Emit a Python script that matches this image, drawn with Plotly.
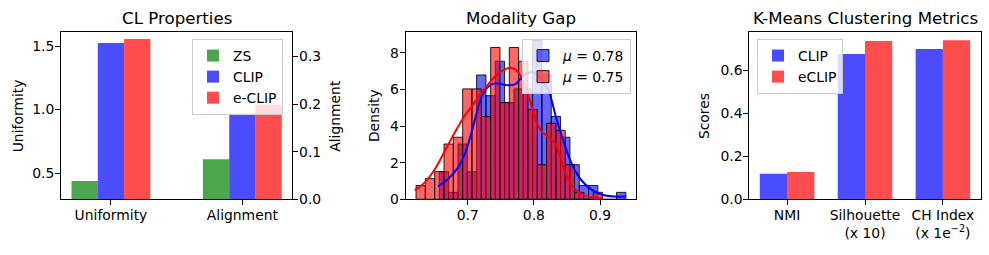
import plotly.graph_objects as go

# ---------------- data ----------------
cl_categories = ["Uniformity", "Alignment"]
cl_methods = ["ZS", "CLIP", "e-CLIP"]
uniformity_values = [0.437, 1.524, 1.555]   # left axis
alignment_values = [0.084, 0.180, 0.199]    # right axis

hist_bin_width = 0.0141
clip_hist_start = 0.6571
eclip_hist_start = 0.6219
clip_density = [1.51, 0.38, 3.02, 1.51, 6.79, 5.66, 7.54, 5.28, 6.03, 6.03,
                8.67, 6.79, 4.52, 3.39, 1.89, 0.75, 0.75, 0.0, 0.0, 0.38]
eclip_density = [0.75, 1.13, 1.51, 3.02, 3.39, 6.03, 6.03, 4.52, 8.29, 5.28,
                 8.29, 7.54, 4.90, 1.89, 4.15, 3.77, 1.89, 0.38, 0.0, 0.38]
clip_kde_x = [0.655, 0.671, 0.686, 0.696, 0.706, 0.714, 0.721, 0.731, 0.741, 0.751,
              0.761, 0.772, 0.779, 0.788, 0.797, 0.807, 0.816, 0.823, 0.827, 0.834,
              0.842, 0.852, 0.862, 0.872, 0.885, 0.902, 0.922, 0.939]
clip_kde_y = [0.70, 1.13, 1.77, 2.50, 3.68, 4.77, 5.59, 6.14, 6.33, 6.29,
              6.23, 6.29, 6.55, 6.85, 6.95, 6.75, 6.30, 5.90, 5.40, 4.41,
              3.50, 2.40, 1.59, 1.04, 0.58, 0.26, 0.15, 0.15]
eclip_kde_x = [0.620, 0.636, 0.651, 0.666, 0.681, 0.696, 0.711, 0.726, 0.741, 0.756,
               0.764, 0.776, 0.789, 0.797, 0.804, 0.812, 0.822, 0.832, 0.839, 0.847,
               0.857, 0.867, 0.880, 0.892, 0.904]
eclip_kde_y = [0.49, 0.95, 1.68, 2.68, 3.68, 4.59, 5.32, 6.05, 6.69, 7.09,
               7.18, 6.96, 5.96, 5.05, 4.23, 3.68, 3.41, 3.05, 2.41, 1.49,
               0.77, 0.40, 0.16, 0.09, 0.09]
mu_labels = ["<i>μ</i> = 0.78", "<i>μ</i> = 0.75"]

km_metrics = ["NMI", "Silhouette<br>(x 10)", "CH Index<br>(x 1e<sup>−2</sup>)"]
km_methods = ["CLIP", "eCLIP"]
km_clip = [0.119, 0.676, 0.699]
km_eclip = [0.127, 0.736, 0.740]

# ---------------- style ----------------
FONT = "DejaVu Sans"
FS = 13.9
GREEN = "rgba(0,128,0,0.7)"
BLUE = "rgba(0,0,255,0.7)"
RED = "rgba(255,0,0,0.7)"
HBLUE = "rgba(0,0,255,0.6)"
HRED = "rgba(255,0,0,0.6)"

W, H = 989, 255
def px_x(a, b):
    return [a / W, b / W]
YD = [(H - 199.3) / H, (H - 32.3) / H]
P1 = px_x(61, 292.3)
P2 = px_x(405.7, 636)
P3 = px_x(749.3, 980.7)

fig = go.Figure()

# Panel 1: CL properties
cl_colors = [GREEN, BLUE, RED]
bw1 = 0.2
for i, (name, col) in enumerate(zip(cl_methods, cl_colors)):
    off = (i - 1) * bw1
    fig.add_bar(x=[0 + off], y=[uniformity_values[i]], width=bw1, name=name,
                marker=dict(color=col, line=dict(width=0)), xaxis="x", yaxis="y",
                legend="legend")
for i, (name, col) in enumerate(zip(cl_methods, cl_colors)):
    off = (i - 1) * bw1
    fig.add_bar(x=[1 + off], y=[alignment_values[i]], width=bw1, name=name,
                marker=dict(color=col, line=dict(width=0)), xaxis="x", yaxis="y2",
                showlegend=False)

# Panel 2: modality gap histograms
clip_centers = [clip_hist_start + (k + 0.5) * hist_bin_width for k in range(len(clip_density))]
eclip_centers = [eclip_hist_start + (k + 0.5) * hist_bin_width for k in range(len(eclip_density))]
fig.add_bar(x=clip_centers, y=clip_density, width=hist_bin_width, name=mu_labels[0],
            marker=dict(color=HBLUE, line=dict(color="rgba(0,0,0,0.85)", width=1)),
            xaxis="x2", yaxis="y3", legend="legend2")
fig.add_bar(x=eclip_centers, y=eclip_density, width=hist_bin_width, name=mu_labels[1],
            marker=dict(color=HRED, line=dict(color="rgba(0,0,0,0.85)", width=1)),
            xaxis="x2", yaxis="y3", legend="legend2")
fig.add_scatter(x=clip_kde_x, y=clip_kde_y, mode="lines", line=dict(color="blue", width=2, shape="spline"),
                xaxis="x2", yaxis="y3", showlegend=False)
fig.add_scatter(x=eclip_kde_x, y=eclip_kde_y, mode="lines", line=dict(color="red", width=2, shape="spline"),
                xaxis="x2", yaxis="y3", showlegend=False)

# Panel 3: K-means metrics
bw3 = 0.35
for vals, name, col, off in [(km_clip, km_methods[0], BLUE, -bw3 / 2), (km_eclip, km_methods[1], RED, bw3 / 2)]:
    fig.add_bar(x=[k + off for k in range(len(vals))], y=vals, width=bw3, name=name,
                marker=dict(color=col, line=dict(width=0)), xaxis="x3", yaxis="y4",
                legend="legend3")

common = dict(showline=True, linecolor="black", linewidth=1, ticks="outside", ticklen=5,
              tickwidth=1, tickcolor="black", showgrid=False, zeroline=False,
              tickfont=dict(family=FONT, size=FS, color="black"), automargin=False,
              ticklabelstandoff=-2)

legend_common = dict(bgcolor="rgba(255,255,255,0.8)", bordercolor="#cccccc", borderwidth=1,
                     font=dict(family=FONT, size=FS, color="black"), xanchor="left",
                     yanchor="top", traceorder="normal")

fig.update_layout(
    width=W, height=H, margin=dict(l=0, r=0, t=0, b=0),
    paper_bgcolor="white", plot_bgcolor="white", barmode="overlay",
    font=dict(family=FONT, size=FS, color="black"),
    xaxis=dict(domain=P1, range=[-0.38, 1.38], tickvals=[0, 1], ticktext=cl_categories,
               anchor="y", mirror=True, **common),
    yaxis=dict(domain=YD, range=[0.293, 1.608], tickvals=[0.5, 1.0, 1.5], tickformat=".1f",
               anchor="x", mirror=True, **common),
    yaxis2=dict(range=[0, 0.351], tickvals=[0, 0.1, 0.2, 0.3], tickformat=".1f",
                overlaying="y", side="right", anchor="x", **common),
    xaxis2=dict(domain=P2, range=[0.6063, 0.9544], tickvals=[0.7, 0.8, 0.9], tickformat=".1f",
                anchor="y3", mirror=True, **common),
    yaxis3=dict(domain=YD, range=[0, 9.12], tickvals=[0, 2, 4, 6, 8],
                anchor="x2", mirror=True, **common),
    xaxis3=dict(domain=P3, range=[-0.485, 2.485], tickvals=[0, 1, 2], ticktext=km_metrics,
                anchor="y4", mirror=True, **common),
    yaxis4=dict(domain=YD, range=[0, 0.777], tickvals=[0, 0.2, 0.4, 0.6], tickformat=".1f",
                anchor="x3", mirror=True, **common),
    legend=dict(x=192 / W, y=1 - 39 / H, **legend_common),
    legend2=dict(x=522 / W, y=1 - 39 / H, **legend_common),
    legend3=dict(x=757 / W, y=1 - 39 / H, **legend_common),
    showlegend=True,
)

ymid = 1 - ((32.3 + 199.3) / 2) / H
annots = [
    dict(text="CL Properties", x=176.7 / W, y=1 - 18.5 / H, size=16.67, angle=0),
    dict(text="Modality Gap", x=520.8 / W, y=1 - 18.5 / H, size=16.67, angle=0),
    dict(text="K-Means Clustering Metrics", x=865 / W, y=1 - 18.5 / H, size=16.67, angle=0),
    dict(text="Uniformity", x=17.5 / W, y=ymid, size=FS, angle=-90),
    dict(text="Alignment", x=335 / W, y=ymid, size=FS, angle=-90),
    dict(text="Density", x=373.3 / W, y=ymid, size=FS, angle=-90),
    dict(text="Scores", x=703.3 / W, y=ymid, size=FS, angle=-90),
]
for a in annots:
    fig.add_annotation(text=a["text"], x=a["x"], y=a["y"], xref="paper", yref="paper",
                       xanchor="center", yanchor="middle", showarrow=False, textangle=a["angle"],
                       font=dict(family=FONT, size=a["size"], color="black"))

fig.write_html("out.html", config={"displayModeBar": False},
               post_script="document.body.style.margin='0';document.body.style.overflow='hidden';")
